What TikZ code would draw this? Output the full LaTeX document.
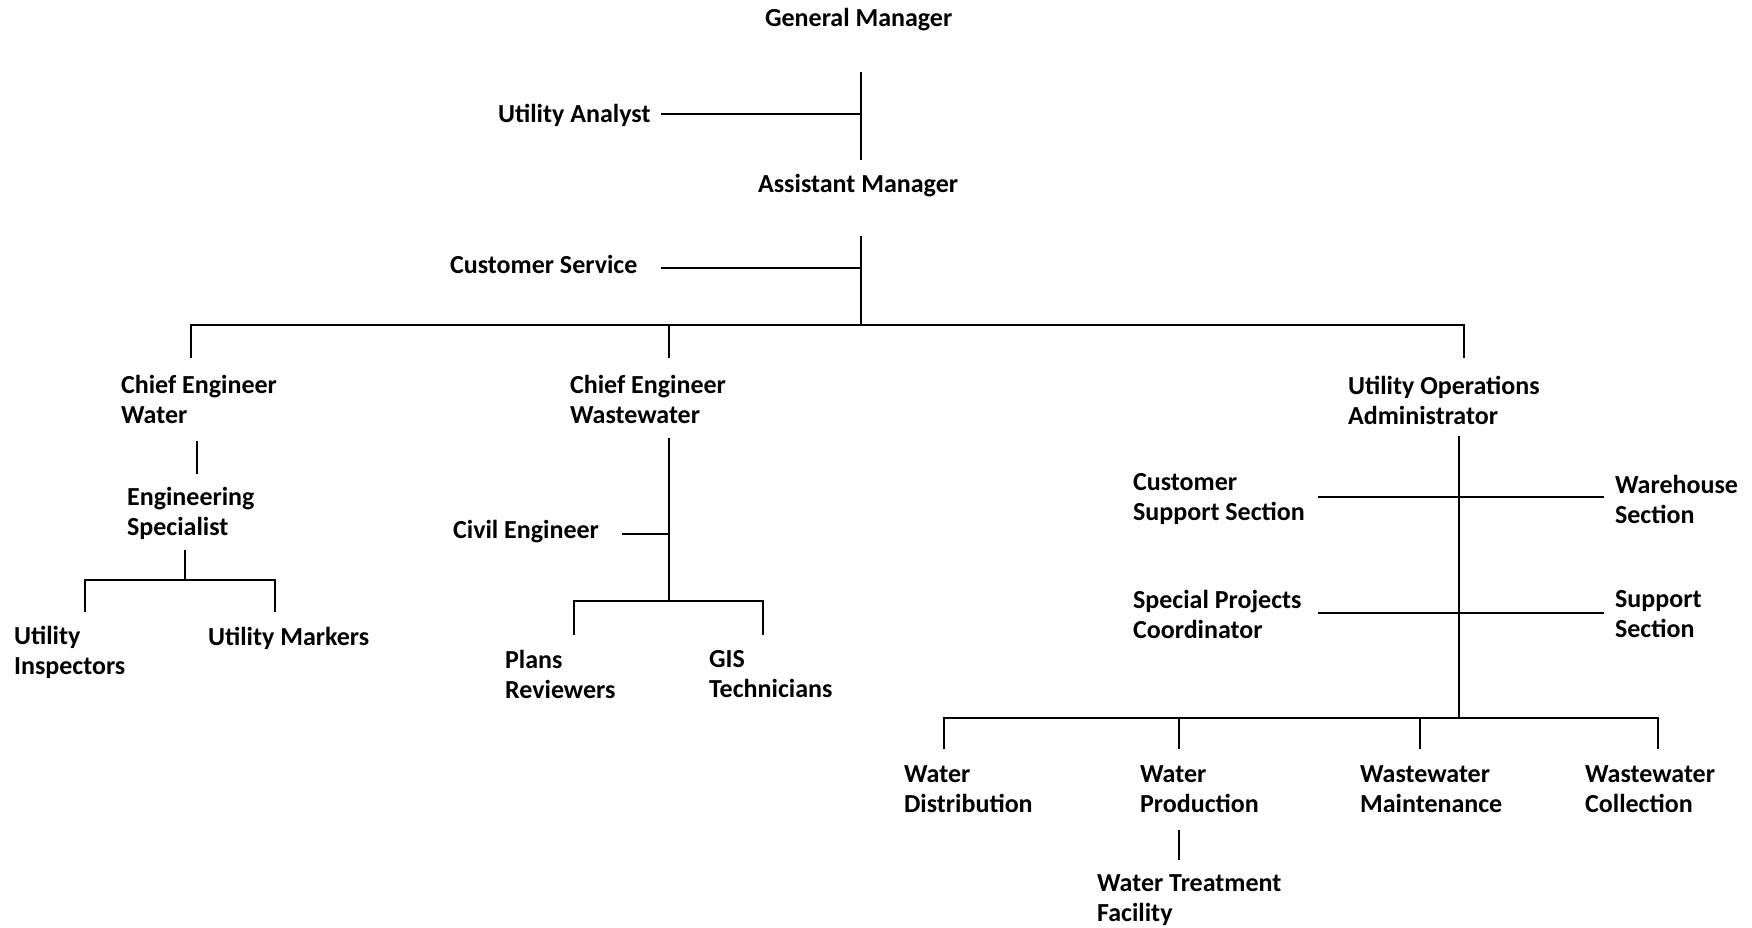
\documentclass[tikz,border=0pt]{standalone}
\usepackage{fontspec}
\setmainfont{Carlito}

\begin{document}
\begin{tikzpicture}[x=0.5pt,y=-0.5pt,line width=1.1pt]
            \tikzstyle{post}=[anchor=west,align=left,inner sep=0pt,font=\fontsize{13}{15}\selectfont\bfseries]
            \tikzstyle{every node}=[post]
            \useasboundingbox (0,0) rectangle (1752,927);

            % top of the chart
            \node (gm) at (764,20) {General Manager};
            \node (ua) at (497,115) {Utility Analyst};
            \node (am) at (757,186) {Assistant Manager};
            \node (cs) at (449,264) {Customer Service};

            % three divisions
            \node (cew) at (120,399) {Chief Engineer\\Water};
            \node (ceww) at (569,399) {Chief Engineer\\Wastewater};
            \node (uoa) at (1347,400) {Utility Operations\\Administrator};

            \node (es) at (126,513) {Engineering\\Specialist};
            \node (ui) at (13,652) {Utility\\Inspectors};
            \node (um) at (207,638) {Utility Markers};

            \node (ce) at (452,532) {Civil Engineer};
            \node (pr) at (504,674) {Plans\\Reviewers};
            \node (gis) at (708,674) {GIS\\Technicians};

            \node (css) at (1132,499) {Customer\\Support Section};
            \node (ws) at (1614,499) {Warehouse\\Section};
            \node (spc) at (1132,614) {Special Projects\\Coordinator};
            \node (ss) at (1614,614) {Support\\Section};

            \node (wd) at (903,789) {Water\\Distribution};
            \node (wp) at (1139,789) {Water\\Production};
            \node (wm) at (1359,789) {Wastewater\\Maintenance};
            \node (wc) at (1584,789) {Wastewater\\Collection};
            \node (wtf) at (1096,900) {Water Treatment\\Facility};

            % line ends
            \coordinate (gmbot) at (861,72);
            \coordinate (amtop) at (861,160);
            \coordinate (ambot) at (861,236);
            \coordinate (bus1) at (861,325);
            \coordinate (uaend) at (661,114);
            \coordinate (csend) at (661,268);
            \coordinate (cewtop) at (191,358);
            \coordinate (cewwtop) at (669,358);
            \coordinate (uoatop) at (1464,358);

            \coordinate (cewbot) at (197,441);
            \coordinate (estop) at (197,474);
            \coordinate (esbot) at (185,550);
            \coordinate (bus2) at (185,580);
            \coordinate (uitop) at (85,612);
            \coordinate (umtop) at (275,612);

            \coordinate (cewwbot) at (669,438);
            \coordinate (bus4) at (669,601);
            \coordinate (ceend) at (622,534);
            \coordinate (prtop) at (574,635);
            \coordinate (gistop) at (763,635);

            \coordinate (uoabot) at (1459,436);
            \coordinate (bus3) at (1459,718);
            \coordinate (cssend) at (1318,497);
            \coordinate (wsend) at (1604,497);
            \coordinate (spcend) at (1318,613);
            \coordinate (ssend) at (1604,613);
            \coordinate (wdtop) at (944,749);
            \coordinate (wptop) at (1179,749);
            \coordinate (wmtop) at (1420,749);
            \coordinate (wctop) at (1658,749);
            \coordinate (wpbot) at (1179,830);
            \coordinate (wtftop) at (1179,860);

            % connectors
            \draw (gmbot) -- (amtop);
            \draw (uaend) -- (uaend -| gmbot);
            \draw (ambot) -- (bus1);
            \draw (csend) -- (csend -| ambot);
            \draw (cewtop) |- (bus1) -| (uoatop);
            \draw (cewwtop) -- (cewwtop |- bus1);

            \draw (cewbot) -- (estop);
            \draw (esbot) -- (bus2);
            \draw (uitop) |- (bus2) -| (umtop);

            \draw (cewwbot) -- (bus4);
            \draw (ceend) -- (ceend -| bus4);
            \draw (prtop) |- (bus4) -| (gistop);

            \draw (uoabot) -- (bus3);
            \draw (cssend) -- (wsend);
            \draw (spcend) -- (ssend);
            \draw (wdtop) |- (bus3) -| (wctop);
            \draw (wptop) -- (wptop |- bus3);
            \draw (wmtop) -- (wmtop |- bus3);
            \draw (wpbot) -- (wtftop);
\end{tikzpicture}
\end{document}
